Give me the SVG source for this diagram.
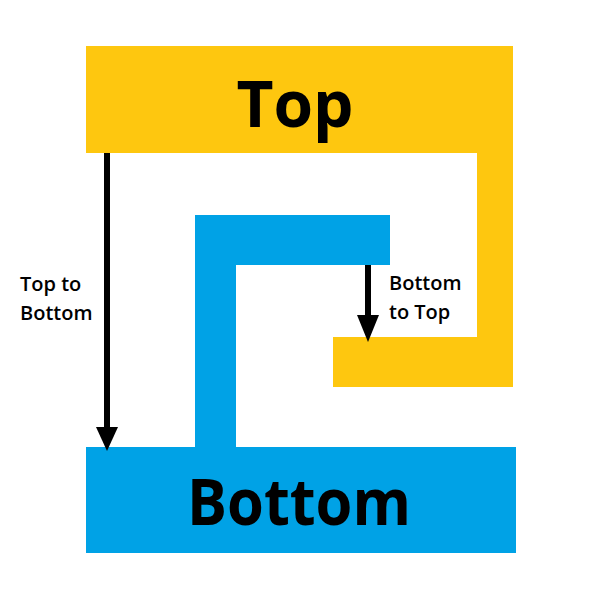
<svg xmlns="http://www.w3.org/2000/svg" width="600" height="600" viewBox="0 0 600 600">
<style>
.big{font-family:"Open Sans","DejaVu Sans",sans-serif;font-weight:bold;font-size:64px;fill:#000;text-anchor:middle}
.lbl{font-family:"Open Sans","DejaVu Sans",sans-serif;font-weight:600;font-size:20px;fill:#000}
.conn{stroke:#000;stroke-width:6;fill:none}
</style>
<rect width="600" height="600" fill="#fff"/>
<g id="top">
<polygon points="86,46 513,46 513,387 333,387 333,337 477,337 477,153 86,153" fill="#fec70f"/>
<text class="big" x="295" y="127">Top</text>
</g>
<g id="bottom">
<polygon points="195,215 390,215 390,265 236,265 236,447 516,447 516,553 86,553 86,447 195,447" fill="#00a2e6"/>
<text class="big" x="299" y="525" textLength="224" lengthAdjust="spacingAndGlyphs">Bottom</text>
</g>
<g id="connectors">
<path class="conn" d="M107,153 V428"/>
<polygon points="96,427 118,427 107,451" fill="#000"/>
<path class="conn" d="M368,265 V318"/>
<polygon points="357,315 379,315 368,342" fill="#000"/>
<text class="lbl" x="20" y="291">Top to</text>
<text class="lbl" x="20" y="320">Bottom</text>
<text class="lbl" x="389" y="290">Bottom</text>
<text class="lbl" x="389" y="319">to Top</text>
</g>
</svg>
